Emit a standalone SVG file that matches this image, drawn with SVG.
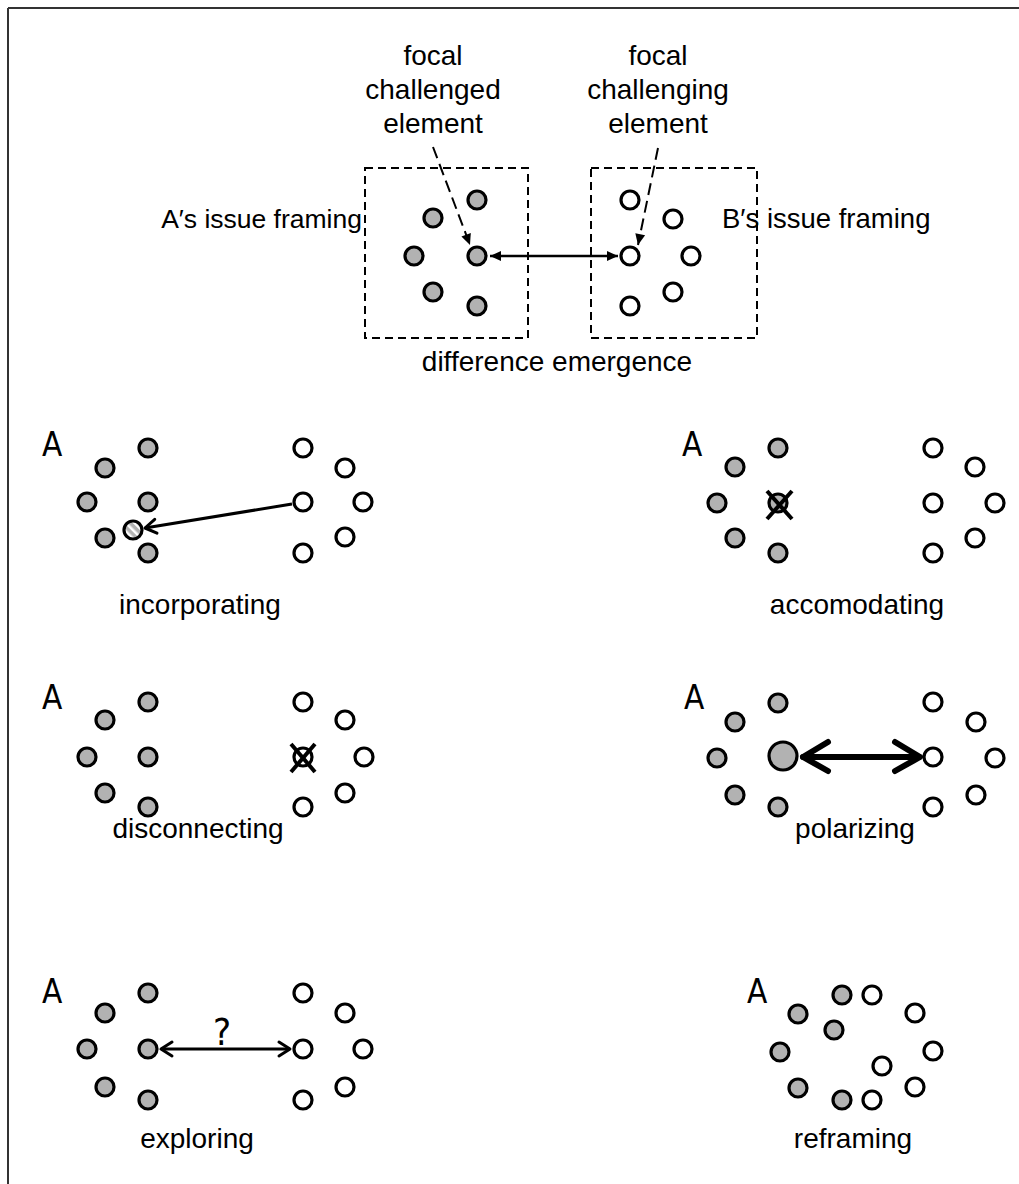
<svg xmlns="http://www.w3.org/2000/svg" width="1019" height="1184" viewBox="0 0 1019 1184">
<style>
.g{fill:#b2b2b2;stroke:#000;stroke-width:3.2}
.w{fill:#fff;stroke:#000;stroke-width:3.2}
.t{font-family:"Liberation Sans",Arial,sans-serif;font-size:28px;fill:#000}
.m{text-anchor:middle}
.a{font-family:"DejaVu Sans Condensed","DejaVu Sans",sans-serif;font-size:33px;fill:#000}
.q{font-family:"DejaVu Sans Condensed","DejaVu Sans",sans-serif;font-size:38px;fill:#000;text-anchor:middle}
.box{fill:none;stroke:#000;stroke-width:2;stroke-dasharray:8 5}
.x{stroke:#000;stroke-width:4;stroke-linecap:butt}
</style>
<defs>
<marker id="chev" markerUnits="userSpaceOnUse" viewBox="-14 -10 16 20" refX="0" refY="0" markerWidth="16" markerHeight="20" orient="auto-start-reverse" overflow="visible">
<path d="M-11,-7 L0,0 L-11,7" fill="none" stroke="#000" stroke-width="3" stroke-linecap="round" stroke-linejoin="round"/>
</marker>
<marker id="tri" markerUnits="userSpaceOnUse" viewBox="-12 -6 13 12" refX="0" refY="0" markerWidth="13" markerHeight="12" orient="auto-start-reverse" overflow="visible">
<path d="M0,0 L-11,-5 L-11,5 Z" fill="#000"/>
</marker>
<pattern id="hatch" patternUnits="userSpaceOnUse" width="6" height="6" patternTransform="rotate(-45)">
<rect width="6" height="6" fill="#b2b2b2"/>
<rect width="2.5" height="6" fill="#ffffff"/>
</pattern>
</defs>
<rect width="1019" height="1184" fill="#fff"/>
<g id="frame">
<line x1="8" y1="8" x2="1019" y2="8" stroke="#333" stroke-width="2"/>
<line x1="8" y1="8" x2="8" y2="1184" stroke="#333" stroke-width="2"/>
</g>

<g id="difference-emergence">
<rect class="box" x="365" y="168" width="163" height="170"/>
<rect class="box" x="591" y="168" width="166" height="170"/>
<text class="t m" x="433" y="65">focal</text>
<text class="t m" x="433" y="99">challenged</text>
<text class="t m" x="433" y="133">element</text>
<text class="t m" x="658" y="65">focal</text>
<text class="t m" x="658" y="99">challenging</text>
<text class="t m" x="658" y="133">element</text>
<text class="t" x="362" y="228" text-anchor="end" style="font-size:26.5px">A′s issue framing</text>
<text class="t" x="722" y="228" style="font-size:27.5px">B′s issue framing</text>
<text class="t m" x="557" y="371">difference emergence</text>
<g id="top-A">
<circle class="g" cx="477" cy="200" r="9"/>
<circle class="g" cx="433" cy="218" r="9"/>
<circle class="g" cx="414" cy="256" r="9"/>
<circle class="g" cx="477" cy="256" r="9"/>
<circle class="g" cx="433" cy="292" r="9"/>
<circle class="g" cx="477" cy="306" r="9"/>
</g>
<g id="top-B">
<circle class="w" cx="630" cy="200" r="9"/>
<circle class="w" cx="673" cy="219" r="9"/>
<circle class="w" cx="630" cy="256" r="9"/>
<circle class="w" cx="691" cy="256" r="9"/>
<circle class="w" cx="673" cy="292" r="9"/>
<circle class="w" cx="630" cy="306" r="9"/>
</g>
</g>

<g id="incorporating">
<text class="a" x="42" y="456">A</text>
<circle class="g" cx="148" cy="448" r="9"/>
<circle class="g" cx="105" cy="468" r="9"/>
<circle class="g" cx="87" cy="502" r="9"/>
<circle class="g" cx="148" cy="502" r="9"/>
<circle class="g" cx="105" cy="538" r="9"/>
<circle class="g" cx="148" cy="553" r="9"/>
<circle cx="133" cy="530" r="9" fill="url(#hatch)" stroke="#000" stroke-width="3.2"/>
<circle class="w" cx="303" cy="448" r="9"/>
<circle class="w" cx="345" cy="468" r="9"/>
<circle class="w" cx="303" cy="502" r="9"/>
<circle class="w" cx="363" cy="502" r="9"/>
<circle class="w" cx="345" cy="537" r="9"/>
<circle class="w" cx="303" cy="553" r="9"/>
<text class="t m" x="200" y="614">incorporating</text>
</g>

<g id="accomodating">
<text class="a" x="682" y="456">A</text>
<circle class="g" cx="778" cy="448" r="9"/>
<circle class="g" cx="735" cy="467" r="9"/>
<circle class="g" cx="717" cy="503" r="9"/>
<circle class="g" cx="778" cy="503" r="9"/>
<line class="x" x1="767" y1="491" x2="792" y2="519"/>
<line class="x" x1="767" y1="519" x2="792" y2="491"/>
<circle class="g" cx="735" cy="538" r="9"/>
<circle class="g" cx="778" cy="553" r="9"/>
<circle class="w" cx="933" cy="448" r="9"/>
<circle class="w" cx="975" cy="467" r="9"/>
<circle class="w" cx="933" cy="503" r="9"/>
<circle class="w" cx="995" cy="503" r="9"/>
<circle class="w" cx="975" cy="538" r="9"/>
<circle class="w" cx="933" cy="553" r="9"/>
<text class="t m" x="857" y="614">accomodating</text>
</g>

<g id="disconnecting">
<text class="a" x="42" y="709">A</text>
<circle class="g" cx="148" cy="702" r="9"/>
<circle class="g" cx="105" cy="720" r="9"/>
<circle class="g" cx="87" cy="757" r="9"/>
<circle class="g" cx="148" cy="757" r="9"/>
<circle class="g" cx="105" cy="793" r="9"/>
<circle class="g" cx="148" cy="807" r="9"/>
<circle class="w" cx="303" cy="702" r="9"/>
<circle class="w" cx="345" cy="720" r="9"/>
<circle class="w" cx="303" cy="757" r="9"/>
<line class="x" x1="291" y1="744" x2="315" y2="772"/>
<line class="x" x1="291" y1="772" x2="315" y2="744"/>
<circle class="w" cx="364" cy="757" r="9"/>
<circle class="w" cx="345" cy="793" r="9"/>
<circle class="w" cx="303" cy="807" r="9"/>
<text class="t m" x="198" y="838">disconnecting</text>
</g>

<g id="polarizing">
<text class="a" x="684" y="709">A</text>
<circle class="g" cx="778" cy="703" r="9"/>
<circle class="g" cx="735" cy="722" r="9"/>
<circle class="g" cx="717" cy="758" r="9"/>
<circle class="g" cx="783" cy="756" r="14"/>
<circle class="g" cx="735" cy="795" r="9"/>
<circle class="g" cx="778" cy="807" r="9"/>
<circle class="w" cx="933" cy="702" r="9"/>
<circle class="w" cx="976" cy="722" r="9"/>
<circle class="w" cx="933" cy="757" r="9"/>
<circle class="w" cx="995" cy="758" r="9"/>
<circle class="w" cx="976" cy="795" r="9"/>
<circle class="w" cx="933" cy="807" r="9"/>
<text class="t m" x="855" y="838">polarizing</text>
</g>

<g id="exploring">
<text class="a" x="42" y="1003">A</text>
<circle class="g" cx="148" cy="993" r="9"/>
<circle class="g" cx="105" cy="1013" r="9"/>
<circle class="g" cx="87" cy="1049" r="9"/>
<circle class="g" cx="148" cy="1049" r="9"/>
<circle class="g" cx="105" cy="1087" r="9"/>
<circle class="g" cx="148" cy="1100" r="9"/>
<circle class="w" cx="303" cy="993" r="9"/>
<circle class="w" cx="345" cy="1013" r="9"/>
<circle class="w" cx="303" cy="1049" r="9"/>
<circle class="w" cx="363" cy="1049" r="9"/>
<circle class="w" cx="345" cy="1087" r="9"/>
<circle class="w" cx="303" cy="1100" r="9"/>
<text class="q" x="222" y="1045">?</text>
<text class="t m" x="197" y="1148">exploring</text>
</g>

<g id="reframing">
<text class="a" x="747" y="1003">A</text>
<circle class="g" cx="842" cy="995" r="9"/>
<circle class="g" cx="798" cy="1014" r="9"/>
<circle class="g" cx="834" cy="1030" r="9"/>
<circle class="g" cx="780" cy="1052" r="9"/>
<circle class="g" cx="798" cy="1088" r="9"/>
<circle class="g" cx="842" cy="1100" r="9"/>
<circle class="w" cx="872" cy="995" r="9"/>
<circle class="w" cx="915" cy="1013" r="9"/>
<circle class="w" cx="933" cy="1051" r="9"/>
<circle class="w" cx="882" cy="1066" r="9"/>
<circle class="w" cx="915" cy="1087" r="9"/>
<circle class="w" cx="872" cy="1100" r="9"/>
<text class="t m" x="853" y="1148">reframing</text>
</g>

<g id="connectors">
<line x1="433" y1="147" x2="470" y2="245" stroke="#000" stroke-width="2" stroke-dasharray="12 6" marker-end="url(#tri)"/>
<line x1="658" y1="148" x2="638" y2="245" stroke="#000" stroke-width="2" stroke-dasharray="12 6" marker-end="url(#tri)"/>
<line x1="490" y1="256" x2="618" y2="256" stroke="#000" stroke-width="2.5" marker-start="url(#tri)" marker-end="url(#tri)"/>
<line x1="292" y1="504" x2="145" y2="528" stroke="#000" stroke-width="3" marker-end="url(#chev)"/>
<line x1="161" y1="1049" x2="290" y2="1049" stroke="#000" stroke-width="3" marker-start="url(#chev)" marker-end="url(#chev)"/>
<g fill="none" stroke="#000" stroke-width="6" stroke-linecap="round" stroke-linejoin="round">
<line x1="803" y1="757" x2="919" y2="757"/>
<path d="M828,742 L803,757 L828,771"/>
<path d="M895,742 L920,757 L895,771"/>
</g>
</g>
</svg>
